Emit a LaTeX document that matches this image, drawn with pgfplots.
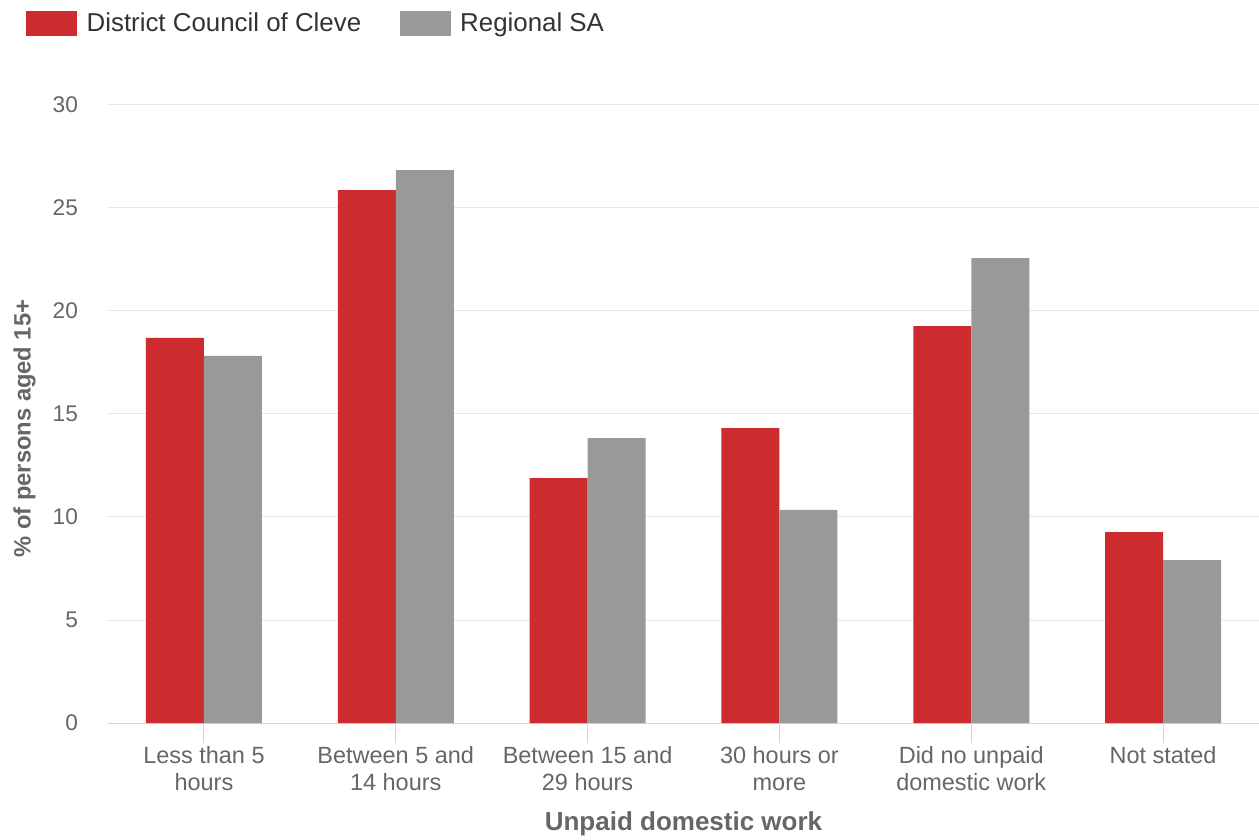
\documentclass[border=0pt]{standalone}
\usepackage{fontspec}
\setmainfont{Liberation Sans}
\usepackage{pgfplots}
\pgfplotsset{compat=1.18}
\definecolor{cred}{HTML}{CC2B30}
\definecolor{cgrey}{HTML}{999999}
\definecolor{ctext}{HTML}{666666}
\definecolor{cgrid}{HTML}{E6E6E6}
\definecolor{caxis}{HTML}{CCD6EB}
\definecolor{clegend}{HTML}{333333}
\begin{document}
\begin{tikzpicture}
\useasboundingbox (0,0) rectangle (944.25pt,629.25pt);
\begin{axis}[
  at={(81pt,87pt)}, anchor=south west,
  scale only axis, width=863.25pt, height=463.5pt,
  xmin=-0.5, xmax=5.5, ymin=0, ymax=30,
  ybar=0pt, bar width=43.5pt,
  /pgf/number format/assume math mode=true,
  axis x line*=bottom, axis y line*=left,
  x axis line style={draw=caxis, line width=0.75pt, -},
  y axis line style={draw=none},
  ytick={0,5,10,15,20,25,30},
  ymajorgrids, grid style={draw=cgrid, line width=0.75pt},
  major y tick style={draw=none},
  xtick={0,1,2,3,4,5},
  xticklabels={{Less than 5\\hours},{Between 5 and\\14 hours},{Between 15 and\\29 hours},{30 hours or\\more},{Did no unpaid\\domestic work},{Not stated}},
  tick align=outside,
  major tick length=15pt,
  major x tick style={draw=caxis, line width=0.75pt},
  xticklabel style={align=center, font=\fontsize{17.6}{20.25}\selectfont, text=ctext, yshift=1pt},
  yticklabel style={font=\fontsize{17}{20}\selectfont, text=ctext, xshift=-4pt},
  xlabel={Unpaid domestic work},
  ylabel={\% of persons aged 15+},
  xlabel style={font=\bfseries\fontsize{19.5}{22}\selectfont, text=ctext, yshift=-9pt},
  ylabel style={font=\bfseries\fontsize{17.8}{20}\selectfont, text=ctext, yshift=6pt, xshift=-11pt},
  legend columns=2,
  legend style={draw=none, at={(-0.0712,1.1537)}, anchor=north west,
    font=\fontsize{19.4}{22}\selectfont, text=clegend, inner sep=0pt,
    /tikz/every odd column/.append style={column sep=5pt},
    /tikz/every even column/.append style={column sep=27pt}},
  legend image code/.code={\fill[#1] (0pt,-9.4pt) rectangle (38.25pt,9.4pt);},
]
\addplot[fill=cred, draw=none] coordinates {(0,18.69) (1,25.87) (2,11.89) (3,14.32) (4,19.27) (5,9.27)};
\addplot[fill=cgrey, draw=none] coordinates {(0,17.82) (1,26.84) (2,13.83) (3,10.34) (4,22.57) (5,7.91)};
\legend{District Council of Cleve, Regional SA}
\end{axis}
\end{tikzpicture}
\end{document}
